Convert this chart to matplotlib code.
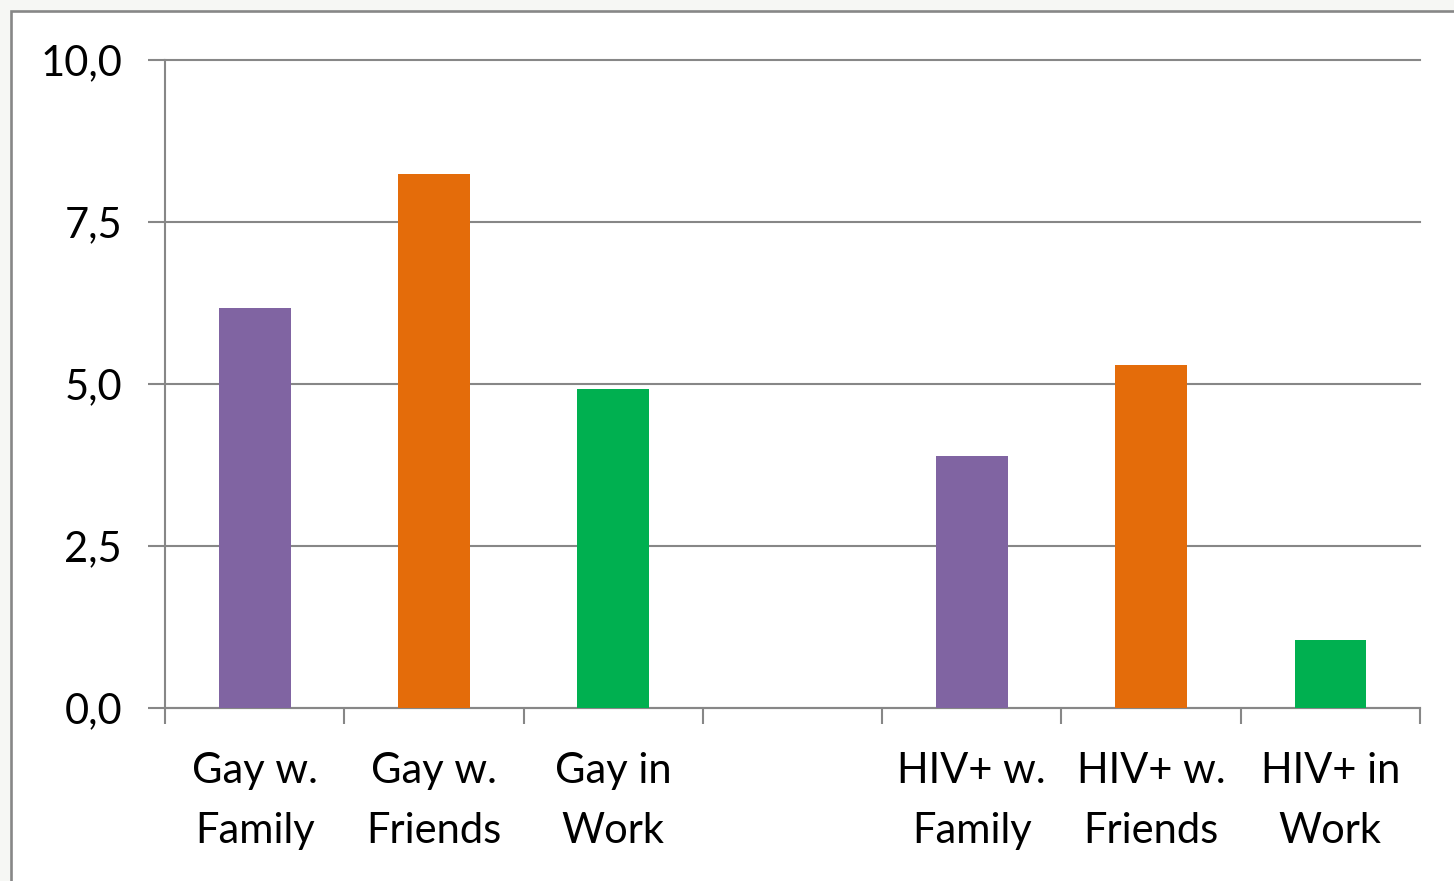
import matplotlib
matplotlib.use("Agg")
import matplotlib.pyplot as plt
import numpy as np
from matplotlib.patches import Rectangle
from matplotlib.ticker import FixedLocator, FuncFormatter

categories = ["Gay w.\nFamily", "Gay w.\nFriends", "Gay in\nWork", "",
              "HIV+ w.\nFamily", "HIV+ w.\nFriends", "HIV+ in\nWork"]
values = [6.18, 8.24, 4.92, 0.0, 3.89, 5.29, 1.05]
bar_colors = ["#8064A2", "#E46C0A", "#00B050", "#FFFFFF",
              "#8064A2", "#E46C0A", "#00B050"]
yticks = [0.0, 2.5, 5.0, 7.5, 10.0]

GRID = "#878787"
plt.rcParams["font.family"] = ["Lato", "DejaVu Sans"]

fig = plt.figure(figsize=(14.54, 8.81), dpi=100, facecolor="#f6f7f4")
# chart frame
fig.add_artist(Rectangle((0.0075, -0.02), 1.1, 1.0075, transform=fig.transFigure,
                         facecolor="white", edgecolor=GRID, lw=1.9, zorder=0))

ax = fig.add_axes([165 / 1454, 1 - 708 / 881, 1255 / 1454, 648 / 881])
ax.set_facecolor("none")
x = np.arange(len(categories))
ax.bar(x, values, width=0.4, color=bar_colors, linewidth=0, zorder=3)

ax.set_xlim(-0.5, len(categories) - 0.5)
ax.set_ylim(0, 10)
ax.set_yticks(yticks)
ax.yaxis.set_major_formatter(FuncFormatter(lambda v, _: f"{v:.1f}".replace(".", ",")))
ax.yaxis.grid(True, color=GRID, lw=1.5, zorder=1)
for gl in ax.get_ygridlines():
    gl.set_clip_on(False)
ax.tick_params(axis="y", direction="out", length=12, width=1.5, color=GRID,
               labelsize=30, pad=19, labelcolor="black")

ax.xaxis.set_major_locator(FixedLocator(np.arange(-0.5, len(categories), 1.0)))
ax.xaxis.set_major_formatter(FuncFormatter(lambda v, _: ""))
ax.xaxis.set_minor_locator(FixedLocator(x))
ax.set_xticklabels(categories, minor=True)
ax.tick_params(axis="x", which="major", direction="out", length=11.5, width=1.5, color=GRID)
ax.tick_params(axis="x", which="minor", length=0, labelsize=30, pad=32, labelcolor="black")
for lab in ax.get_xticklabels(minor=True):
    lab.set_linespacing(1.68)

for s in ("top", "right"):
    ax.spines[s].set_visible(False)
for s in ("left", "bottom"):
    ax.spines[s].set_color(GRID)
    ax.spines[s].set_linewidth(1.5)
ax.set_axisbelow(True)

fig.savefig("out.png", dpi=100, facecolor=fig.get_facecolor())
